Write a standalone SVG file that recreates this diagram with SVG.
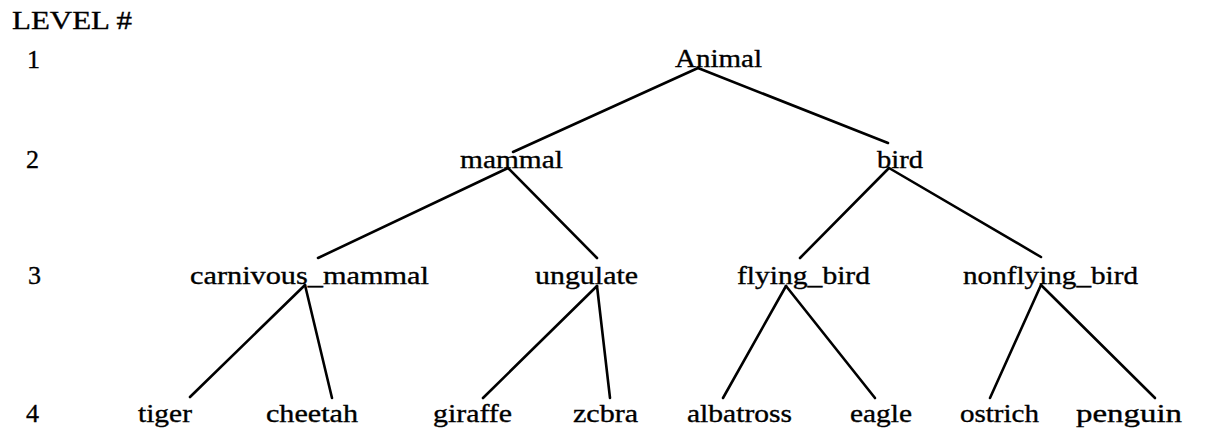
<svg xmlns="http://www.w3.org/2000/svg" width="1226" height="430" viewBox="0 0 1226 430">
  <style>
    .lbl { font-family: "Liberation Serif", "Times New Roman", serif; font-size: 26px; fill: #000; stroke: #000; stroke-width: 0.35; }
    .edge { stroke: #000; stroke-width: 2.6; stroke-linecap: round; fill: none; }
  </style>
  <rect width="1226" height="430" fill="#fff"/>

  <!-- level column -->
  <g id="levels">
    <text class="lbl" x="12" y="29" textLength="120" lengthAdjust="spacingAndGlyphs">LEVEL #</text>
    <text class="lbl" x="27" y="68">1</text>
    <text class="lbl" x="26" y="168">2</text>
    <text class="lbl" x="28" y="284">3</text>
    <text class="lbl" x="26" y="422">4</text>
  </g>

  <!-- tree edges -->
  <g id="connectors">
    <line class="edge" x1="698" y1="68" x2="513" y2="152"/>
    <line class="edge" x1="698" y1="68" x2="888" y2="143"/>
    <line class="edge" x1="508" y1="168" x2="318" y2="258"/>
    <line class="edge" x1="508" y1="168" x2="597" y2="258"/>
    <line class="edge" x1="889" y1="168" x2="800" y2="258"/>
    <line class="edge" x1="889" y1="168" x2="1041" y2="257"/>
    <line class="edge" x1="305" y1="285" x2="190" y2="397"/>
    <line class="edge" x1="305" y1="285" x2="332" y2="398"/>
    <line class="edge" x1="597" y1="286" x2="483" y2="398"/>
    <line class="edge" x1="597" y1="286" x2="610" y2="398"/>
    <line class="edge" x1="786" y1="286" x2="723" y2="398"/>
    <line class="edge" x1="786" y1="286" x2="875" y2="398"/>
    <line class="edge" x1="1041" y1="285" x2="990" y2="398"/>
    <line class="edge" x1="1041" y1="285" x2="1155" y2="398"/>
  </g>

  <!-- level 1 -->
  <g id="animal"><text class="lbl" x="675" y="67" textLength="87" lengthAdjust="spacingAndGlyphs">Animal</text></g>

  <!-- level 2 -->
  <g id="mammal"><text class="lbl" x="460" y="168" textLength="103" lengthAdjust="spacingAndGlyphs">mammal</text></g>
  <g id="bird"><text class="lbl" x="877" y="168" textLength="46" lengthAdjust="spacingAndGlyphs">bird</text></g>

  <!-- level 3 -->
  <g id="carnivous_mammal"><text class="lbl" x="190" y="284" textLength="239" lengthAdjust="spacingAndGlyphs">carnivous_mammal</text></g>
  <g id="ungulate"><text class="lbl" x="535" y="284" textLength="103" lengthAdjust="spacingAndGlyphs">ungulate</text></g>
  <g id="flying_bird"><text class="lbl" x="737" y="284" textLength="133" lengthAdjust="spacingAndGlyphs">flying_bird</text></g>
  <g id="nonflying_bird"><text class="lbl" x="963" y="284" textLength="175" lengthAdjust="spacingAndGlyphs">nonflying_bird</text></g>

  <!-- level 4 -->
  <g id="tiger"><text class="lbl" x="138" y="422" textLength="54" lengthAdjust="spacingAndGlyphs">tiger</text></g>
  <g id="cheetah"><text class="lbl" x="266" y="422" textLength="92" lengthAdjust="spacingAndGlyphs">cheetah</text></g>
  <g id="giraffe"><text class="lbl" x="433" y="422" textLength="79" lengthAdjust="spacingAndGlyphs">giraffe</text></g>
  <g id="zcbra"><text class="lbl" x="573" y="422" textLength="65" lengthAdjust="spacingAndGlyphs">zcbra</text></g>
  <g id="albatross"><text class="lbl" x="687" y="422" textLength="105" lengthAdjust="spacingAndGlyphs">albatross</text></g>
  <g id="eagle"><text class="lbl" x="850" y="422" textLength="62" lengthAdjust="spacingAndGlyphs">eagle</text></g>
  <g id="ostrich"><text class="lbl" x="960" y="422" textLength="79" lengthAdjust="spacingAndGlyphs">ostrich</text></g>
  <g id="penguin"><text class="lbl" x="1076" y="422" textLength="106" lengthAdjust="spacingAndGlyphs">penguin</text></g>
</svg>
